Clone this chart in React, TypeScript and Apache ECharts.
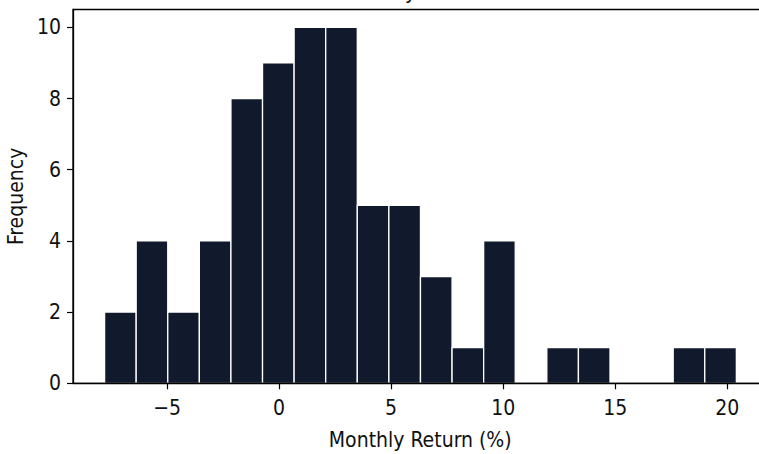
import React, { useEffect, useRef } from "react";
import * as echarts from "echarts";

const binEdges = [-7.79, -6.38, -4.97, -3.56, -2.15, -0.74, 0.67, 2.08, 3.49, 4.9, 6.31, 7.72, 9.13, 10.54, 11.95, 13.36, 14.77, 16.18, 17.59, 19.0, 20.41];
const counts = [2, 4, 2, 4, 8, 9, 10, 10, 5, 5, 3, 1, 4, 0, 1, 1, 0, 0, 1, 1];
const xTicks = [-5, 0, 5, 10, 15, 20];
const yTicks = [0, 2, 4, 6, 8, 10];
const titleText = "Monthly Returns";
const xName = "Monthly Return (%)";
const yName = "Frequency";

const FONT = "DejaVu Sans Condensed";
const FS = 21;

export default function App() {
  const ref = useRef<HTMLDivElement>(null);
  useEffect(() => {
    if (!ref.current) return;
    const chart = echarts.init(ref.current, undefined, { renderer: "svg" });
    const data = counts.map((c, i) => [binEdges[i], binEdges[i + 1], c]);
    chart.setOption({
      animation: false,
      backgroundColor: "#ffffff",
      textStyle: { fontFamily: FONT },
      graphic: [
        {
          type: "text",
          x: 418,
          y: 2,
          z: 10,
          style: {
            text: titleText,
            font: `${FS + 1}px "${FONT}"`,
            fill: "#111",
            textAlign: "center",
            textVerticalAlign: "bottom",
          },
        },
      ],
      grid: {
        left: 73,
        top: 9.5,
        width: 694.5,
        height: 373.8,
        show: true,
        z: 5,
        borderColor: "#000",
        borderWidth: 1.3,
        backgroundColor: "transparent",
        containLabel: false,
        outerBoundsMode: "none",
      },
      xAxis: {
        type: "value",
        min: -9.2,
        max: 21.8,
        z: 6,
        name: xName,
        nameLocation: "middle",
        nameGap: 46,
        nameTextStyle: { fontFamily: FONT, fontSize: FS, color: "#111" },
        splitLine: { show: false },
        axisLine: { show: true, onZero: false, lineStyle: { color: "#000", width: 1.3 } },
        axisTick: { show: true, customValues: xTicks, length: 6, lineStyle: { color: "#000", width: 1.2 } },
        axisLabel: {
          customValues: xTicks,
          margin: 14,
          fontFamily: FONT,
          fontSize: FS,
          color: "#111",
          formatter: (v: number) => (v < 0 ? "\u2212" + Math.abs(v) : String(v)),
        },
      },
      yAxis: {
        type: "value",
        min: 0,
        max: 10.5,
        z: 6,
        name: yName,
        nameLocation: "middle",
        nameGap: 38,
        nameRotate: 90,
        nameTextStyle: { fontFamily: FONT, fontSize: FS, color: "#111" },
        splitLine: { show: false },
        axisLine: { show: true, onZero: false, lineStyle: { color: "#000", width: 1.3 } },
        axisTick: { show: true, customValues: yTicks, length: 6, lineStyle: { color: "#000", width: 1.2 } },
        axisLabel: {
          customValues: yTicks,
          margin: 12,
          fontFamily: FONT,
          fontSize: FS,
          color: "#111",
        },
      },
      series: [
        {
          type: "custom",
          z: 2,
          data,
          encode: { x: [0, 1], y: 2 },
          renderItem: (params: any, api: any) => {
            const x0 = api.value(0);
            const x1 = api.value(1);
            const c = api.value(2);
            if (!c) return null;
            const p0 = api.coord([x0, c]);
            const p1 = api.coord([x1, 0]);
            return {
              type: "rect",
              shape: { x: p0[0], y: p0[1], width: p1[0] - p0[0], height: p1[1] - p0[1] },
              style: { fill: "#111a2c", stroke: "#ffffff", lineWidth: 1.3 },
            };
          },
        },
      ],
    });
    return () => chart.dispose();
  }, []);
  return <div ref={ref} style={{ position: "absolute", left: 0, top: 0, width: 759, height: 454 }} />;
}
